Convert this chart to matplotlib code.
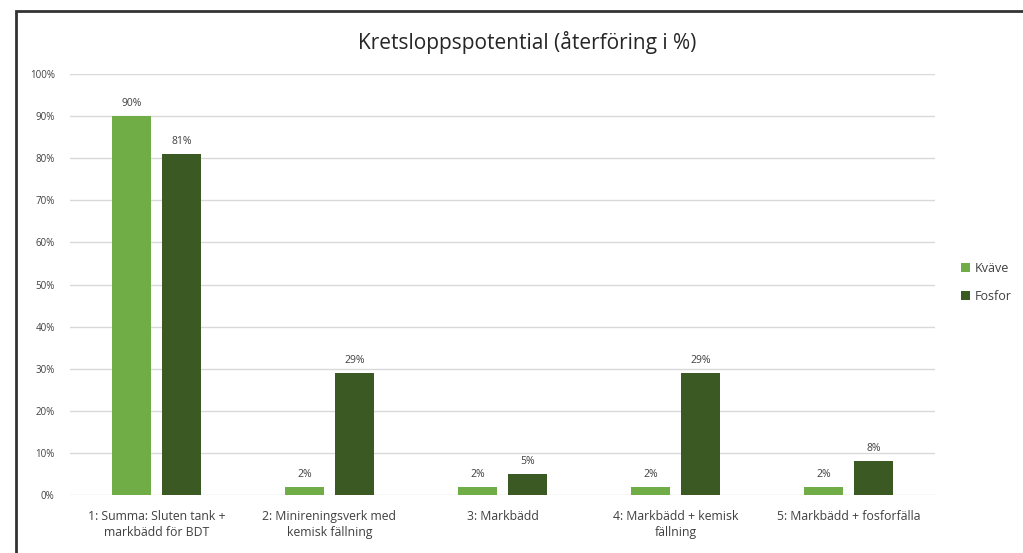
import matplotlib.pyplot as plt
import numpy as np
from matplotlib.patches import Rectangle

categories = ["1: Summa: Sluten tank +\nmarkbädd för BDT",
              "2: Minireningsverk med\nkemisk fällning",
              "3: Markbädd",
              "4: Markbädd + kemisk\nfällning",
              "5: Markbädd + fosforfälla"]
kvave = [90, 2, 2, 2, 2]
fosfor = [81, 29, 5, 29, 8]

plt.rcParams['font.family'] = ['Open Sans', 'DejaVu Sans']

fig = plt.figure(figsize=(10.23, 5.53), dpi=100)
# chart frame, runs off the right and bottom edge
fig.patches.append(Rectangle((16/1023, -0.1), 1.2, 1 - 11/553 + 0.1, transform=fig.transFigure,
                             fill=False, edgecolor='#333333', linewidth=2))

ax = fig.add_axes([70/1023, 1 - 495/553, 865/1023, 421/553])
x = np.arange(len(categories))
width = 0.23
b1 = ax.bar(x - 0.145, kvave, width, color='#70AD47', label='Kväve', zorder=3)
b2 = ax.bar(x + 0.145, fosfor, width, color='#3B5A23', label='Fosfor', zorder=3)

for bars, vals in ((b1, kvave), (b2, fosfor)):
    for r, v in zip(bars, vals):
        ax.annotate(f"{v}%", (r.get_x() + r.get_width()/2, v), xytext=(0, 5),
                    textcoords='offset points', ha='center', va='bottom',
                    fontsize=7.5, color='#404040')

ax.set_xlim(-0.5, len(categories) - 0.5)
ax.set_ylim(0, 100)
ax.set_yticks(range(0, 101, 10))
ax.set_yticklabels([f"{t}%" for t in range(0, 101, 10)], fontsize=7, color='#404040')
ax.set_xticks(x)
ax.set_xticklabels(categories, fontsize=8.8, color='#404040', linespacing=1.3)
ax.tick_params(axis='both', length=0)
ax.tick_params(axis='y', pad=11)
ax.tick_params(axis='x', pad=11)
ax.grid(axis='y', color='#d9d9d9', linewidth=1, zorder=0)
for s in ax.spines.values():
    s.set_visible(False)

fig.text(527/1023, 1 - 42/553, "Kretsloppspotential (återföring i %)", ha='center', va='center',
         fontsize=15, color='#262626')

fig.legend(handles=[b1, b2], loc='center left', bbox_to_anchor=(950/1023, 1 - 282/553),
           frameon=False, fontsize=9, handlelength=0.7, handleheight=0.7,
           handletextpad=0.4, labelspacing=1.2, labelcolor='#404040')

fig.savefig('out.png', dpi=100)
